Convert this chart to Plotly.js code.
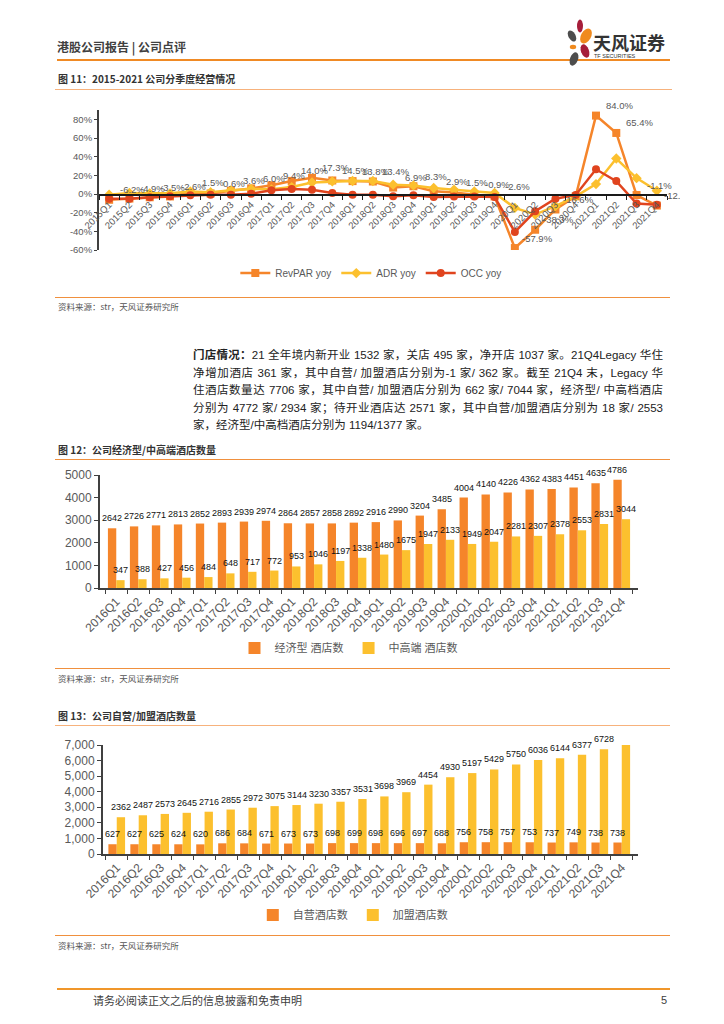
<!DOCTYPE html>
<html><head><meta charset="utf-8">
<script src="https://cdn.plot.ly/plotly-3.0.1.min.js"></script>
<style>
body{margin:0;background:#fff;}
#page{position:relative;width:724px;height:1024px;overflow:hidden;background:#fff;font-family:"Liberation Sans","Noto Sans CJK SC",sans-serif;}
.abs{position:absolute;white-space:nowrap;}
.hl{position:absolute;height:0;}
.ftitle{position:absolute;left:58px;font-family:"Noto Sans CJK SC",sans-serif;font-weight:bold;font-size:10px;color:#333;white-space:nowrap;line-height:12px;}
.src{position:absolute;left:58px;font-family:"Noto Sans CJK SC",sans-serif;font-size:8.5px;color:#555;white-space:nowrap;line-height:10px;}
.chart{position:absolute;}
#para{position:absolute;left:193px;top:346px;width:470px;font-size:11.5px;line-height:17.5px;color:#222;font-family:"Liberation Sans","Noto Sans CJK SC",sans-serif;}
#para div{white-space:nowrap;}
#para .j{text-align:justify;text-align-last:justify;}
</style></head>
<body><div id="page">

<div class="abs" style="left:57px;top:39px;font-family:'Noto Sans CJK SC',sans-serif;font-weight:bold;font-size:12px;color:#404040;line-height:16px;">港股公司报告 | 公司点评</div>
<div class="hl" style="left:57px;top:59px;width:613px;border-top:2.5px solid #F08A24;"></div>
<svg class="abs" style="left:563px;top:17px;" width="112" height="52" viewBox="0 0 112 52">
  <ellipse cx="17" cy="9" rx="3" ry="6.5" fill="#A61E3A"/>
  <ellipse cx="9" cy="19" rx="3.5" ry="6" fill="#4D4D4D" transform="rotate(-30 9 19)"/>
  <ellipse cx="23" cy="19" rx="5" ry="8" fill="#F08A1E" transform="rotate(30 23 19)"/>
  <ellipse cx="10" cy="30" rx="3.2" ry="2.2" fill="#F08A1E"/>
  <ellipse cx="22" cy="34" rx="4" ry="7" fill="#A61E3A" transform="rotate(-20 22 34)"/>
  <ellipse cx="11" cy="42" rx="4" ry="7" fill="#4D4D4D" transform="rotate(20 11 42)"/>
  <text x="30" y="33" font-family="Noto Sans CJK SC" font-weight="bold" font-size="18" fill="#333">天风证券</text>
  <text x="31" y="41" font-family="Liberation Sans" font-size="5.5" fill="#333">TF SECURITIES</text>
</svg>

<div class="ftitle" style="top:73px;">图 11：2015-2021 公司分季度经营情况</div>
<div class="hl" style="left:55px;top:89px;width:617px;border-top:1.5px solid #F7B27C;"></div>
<div id="c1" class="chart" style="left:50px;top:100px;width:630px;height:190px;"></div>
<div class="hl" style="left:55px;top:297px;width:615px;border-top:1px solid #F0903E;"></div>
<div class="src" style="top:301px;">资料来源：str，天风证券研究所</div>

<div id="para">
<div class="j"><b style="font-family:'Noto Sans CJK SC';">门店情况：</b>21 全年境内新开业 1532 家，关店 495 家，净开店 1037 家。21Q4Legacy 华住</div>
<div class="j">净增加酒店 361 家，其中自营/ 加盟酒店分别为-1 家/ 362 家。截至 21Q4 末，Legacy 华</div>
<div class="j">住酒店数量达 7706 家，其中自营/ 加盟酒店分别为 662 家/ 7044 家，经济型/ 中高档酒店</div>
<div class="j">分别为 4772 家/ 2934 家；待开业酒店达 2571 家，其中自营/加盟酒店分别为 18 家/ 2553</div>
<div>家，经济型/中高档酒店分别为 1194/1377 家。</div>
</div>

<div class="ftitle" style="top:444px;">图 12：公司经济型/中高端酒店数量</div>
<div class="hl" style="left:55px;top:459px;width:615px;border-top:1.5px solid #F0903E;"></div>
<div id="c2" class="chart" style="left:50px;top:460px;width:630px;height:205px;"></div>
<div class="hl" style="left:55px;top:668px;width:615px;border-top:1px solid #F0903E;"></div>
<div class="src" style="top:673px;">资料来源：str，天风证券研究所</div>

<div class="ftitle" style="top:710px;">图 13：公司自营/加盟酒店数量</div>
<div class="hl" style="left:55px;top:725px;width:615px;border-top:1.5px solid #F7B27C;"></div>
<div id="c3" class="chart" style="left:50px;top:727px;width:630px;height:205px;"></div>
<div class="hl" style="left:55px;top:935px;width:615px;border-top:1px solid #F0903E;"></div>
<div class="src" style="top:940px;">资料来源：str，天风证券研究所</div>

<div class="hl" style="left:57px;top:988px;width:613px;border-top:2.5px solid #F0962A;"></div>
<div class="abs" style="left:93px;top:993px;font-family:'Noto Sans CJK SC',sans-serif;font-size:11px;color:#404040;line-height:14px;">请务必阅读正文之后的信息披露和免责申明</div>
<div class="abs" style="left:661px;top:993px;font-family:'Liberation Sans',sans-serif;font-size:11px;color:#404040;line-height:14px;">5</div>

</div>
<script>
// ---------- Chart 1 data ----------
const quarters1 = ['2015Q1','2015Q2','2015Q3','2015Q4','2016Q1','2016Q2','2016Q3','2016Q4',
  '2017Q1','2017Q2','2017Q3','2017Q4','2018Q1','2018Q2','2018Q3','2018Q4',
  '2019Q1','2019Q2','2019Q3','2019Q4','2020Q1','2020Q2','2020Q3','2020Q4',
  '2021Q1','2021Q2','2021Q3','2021Q4'];
const revparYoy = [-6.2,-4.9,-3.5,-2.6,1.5,0.6,3.6,6.0,9.4,14.0,17.3,14.5,13.8,13.4,6.9,8.3,
  2.9,1.5,-0.9,-2.6,-57.9,-38.3,-16.6,-2.5,84.0,65.4,-1.1,-12.4];
const adrYoy = [-0.7,1.0,0.7,0.7,2.8,1.8,3.9,5.3,5.0,7.4,12.4,13.5,14.0,14.0,10.0,9.2,
  6.4,4.6,2.8,1.1,-14.9,-22.0,-13.0,-2.5,10.6,38.0,17.0,3.5];
const occYoy = [-5.0,-5.0,-3.5,-2.5,-1.4,-0.7,-0.7,0.3,3.9,5.3,4.6,1.0,-0.7,-0.7,-2.5,-1.4,
  -3.2,-2.8,-2.8,-3.2,-40.7,-18.5,-5.0,-1.0,26.5,13.8,-10.3,-11.5];
const hiddenLabel = ['2020Q4'];   // label not shown in the source chart
const pctTicks = [-60,-40,-20,0,20,40,60,80];

// ---------- Chart 2 data ----------
const quarters2 = ['2016Q1','2016Q2','2016Q3','2016Q4','2017Q1','2017Q2','2017Q3','2017Q4',
  '2018Q1','2018Q2','2018Q3','2018Q4','2019Q1','2019Q2','2019Q3','2019Q4',
  '2020Q1','2020Q2','2020Q3','2020Q4','2021Q1','2021Q2','2021Q3','2021Q4'];
const economyHotels = [2642,2726,2771,2813,2852,2893,2939,2974,2864,2857,2858,2892,
  2916,2990,3204,3485,4004,4140,4226,4362,4383,4451,4635,4786];
const midscaleHotels = [347,388,427,456,484,648,717,772,953,1046,1197,1338,
  1480,1675,1947,2133,1949,2047,2281,2307,2378,2553,2831,3044];

// ---------- Chart 3 data ----------
const leasedHotels = [627,627,625,624,620,686,684,671,673,673,698,699,
  698,696,697,688,756,758,757,753,737,749,738,738];
const franchisedHotels = [2362,2487,2573,2645,2716,2855,2972,3075,3144,3230,3357,3531,
  3698,3969,4454,4930,5197,5429,5750,6036,6144,6377,6728,7092];

const ORANGE = '#F5852A', YELLOW = '#FCC02E', RED = '#E0441E';
const FONT = 'Liberation Sans, Noto Sans CJK SC, sans-serif';
const TICKC = '#595959';
const cfg = {displayModeBar:false, staticPlot:true};

// ---------- Chart 1 ----------
const t1 = [
  {x:quarters1, y:revparYoy, name:'RevPAR yoy', type:'scatter', mode:'lines+markers',
   line:{color:ORANGE,width:2.5}, marker:{symbol:'square',size:8,color:ORANGE}},
  {x:quarters1, y:adrYoy, name:'ADR yoy', type:'scatter', mode:'lines+markers',
   line:{color:YELLOW,width:2.5}, marker:{symbol:'diamond',size:8,color:YELLOW}},
  {x:quarters1, y:occYoy, name:'OCC yoy', type:'scatter', mode:'lines+markers',
   line:{color:RED,width:2.5}, marker:{symbol:'circle',size:8,color:RED}}
];
const ann1 = [];
quarters1.forEach((q,i)=>{
  if(hiddenLabel.includes(q)) return;
  ann1.push({x:q, y:revparYoy[i], text:revparYoy[i].toFixed(1)+'%', showarrow:false,
    xshift:23, yshift:10, font:{family:FONT,size:9.5,color:TICKC}});
});
Plotly.newPlot('c1', t1, {
  width:630, height:190, margin:{l:49,r:13,t:10,b:40,autoexpand:false},
  paper_bgcolor:'rgba(0,0,0,0)', plot_bgcolor:'rgba(0,0,0,0)',
  font:{family:FONT,color:TICKC},
  showlegend:true,
  legend:{orientation:'h', x:0.24, xanchor:'left', y:-0.165, yanchor:'middle',
    font:{family:FONT,size:10,color:TICKC}, bgcolor:'rgba(0,0,0,0)'},
  xaxis:{type:'category', anchor:'free', position:0.4, range:[-0.5,27.5],
    showline:true, linecolor:'#1a1a1a', linewidth:1.5, ticks:'outside', tickson:'boundaries',
    ticklen:4, tickcolor:'#1a1a1a', tickangle:-45, tickfont:{family:FONT,size:9.5,color:TICKC},
    showgrid:false, zeroline:false},
  yaxis:{range:[-60,90], tickvals:pctTicks, ticktext:pctTicks.map(v=>v+'%'),
    showline:true, linecolor:'#404040', linewidth:2, ticks:'outside', ticklen:3, tickcolor:'#404040',
    showgrid:false, zeroline:false, tickfont:{family:FONT,size:9.5,color:TICKC}},
  annotations:ann1
}, cfg);

// ---------- bar chart helpers ----------
const BARGAP = 0.24;
function barLayout(ymax, fmt, margin, legendX, legendY, cats, series){
  const plotW = 630 - margin.l - margin.r;
  const catPx = plotW / cats.length;
  const half = (1 - BARGAP) / 4 * catPx;   // distance from category centre to each bar centre
  const ann = [];
  series.forEach((vals, s)=>{
    vals.forEach((v, i)=>{
      ann.push({x:cats[i], y:v, text:String(v), showarrow:false, yanchor:'bottom',
        xshift:(s === 0 ? -half : half), yshift:3,
        font:{family:FONT,size:9,color:'#111'}});
    });
  });
  margin.autoexpand = false;
  return {
    width:630, height:205, margin:margin,
    paper_bgcolor:'rgba(0,0,0,0)', plot_bgcolor:'rgba(0,0,0,0)',
    font:{family:FONT,color:TICKC},
    barmode:'group', bargap:BARGAP, bargroupgap:0,
    showlegend:true,
    legend:{orientation:'h', x:legendX, xanchor:'left', y:legendY, yanchor:'middle',
      font:{family:FONT,size:11,color:TICKC}, bgcolor:'rgba(0,0,0,0)'},
    xaxis:{type:'category', showline:true, linecolor:'#404040', linewidth:2, ticks:'outside',
      tickson:'boundaries', ticklen:4, tickcolor:'#404040', tickangle:-45,
      tickfont:{family:FONT,size:12,color:TICKC}, showgrid:false, zeroline:false},
    yaxis:{range:[0,ymax], dtick:1000, tickformat:fmt, showline:true, linecolor:'#404040', linewidth:2,
      ticks:'outside', ticklen:4, tickcolor:'#404040', showgrid:false, zeroline:false,
      tickfont:{family:FONT,size:12,color:TICKC}},
    annotations:ann
  };
}
function barTrace(x, y, name, color){
  return {x:x, y:y, name:name, type:'bar', marker:{color:color}};
}

// ---------- Chart 2 ----------
Plotly.newPlot('c2', [
  barTrace(quarters2, economyHotels, '经济型 酒店数', ORANGE),
  barTrace(quarters2, midscaleHotels, '中高端 酒店数', YELLOW)
], barLayout(5000, 'd', {l:50,r:42,t:15,b:77}, 0.25, -0.53, quarters2, [economyHotels, midscaleHotels]), cfg);

// ---------- Chart 3 ----------
Plotly.newPlot('c3', [
  barTrace(quarters2, leasedHotels, '自营酒店数', ORANGE),
  barTrace(quarters2, franchisedHotels, '加盟酒店数', YELLOW)
], barLayout(7000, ',', {l:53,r:42,t:18,b:78}, 0.28, -0.56, quarters2, [leasedHotels, franchisedHotels]), cfg);
</script>
</body></html>
